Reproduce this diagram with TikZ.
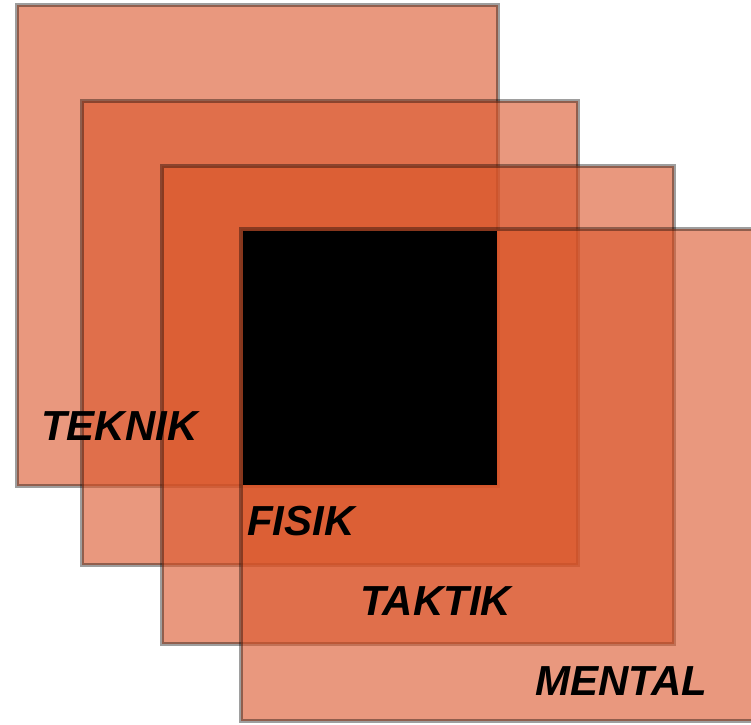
\documentclass[tikz,border=0pt]{standalone}
\usepackage{fontspec}
\setmainfont{Liberation Sans}
\begin{document}
\begin{tikzpicture}[x=1pt,y=-1pt,
  layer/.style={fill={rgb,255:red,218;green,84;blue,40}, fill opacity=0.6,
                draw=black, draw opacity=0.38, line width=4.5pt},
  core/.style={fill=black},
  lbl/.style={anchor=base west, inner sep=0pt, font=\fontsize{42}{42}\selectfont\bfseries\itshape}]
  \useasboundingbox (0,0) rectangle (751,724);
  % four overlapping squares
  \path[layer] (17,5) rectangle (498,486);
  \path[layer] (82,101) rectangle (578,565);
  \path[layer] (162,166) rectangle (674,644);
  \path[layer] (241,229) rectangle (790,721);
  % common core
  \path[core] (243,231) rectangle (497,485);
  % labels
  \node[lbl] (teknik) at (41,440) {TEKNIK};
  \node[lbl] (fisik) at (247,535) {FISIK};
  \node[lbl] (taktik) at (360,615) {TAKTIK};
  \node[lbl] (mental) at (535,695) {MENTAL};
\end{tikzpicture}
\end{document}
